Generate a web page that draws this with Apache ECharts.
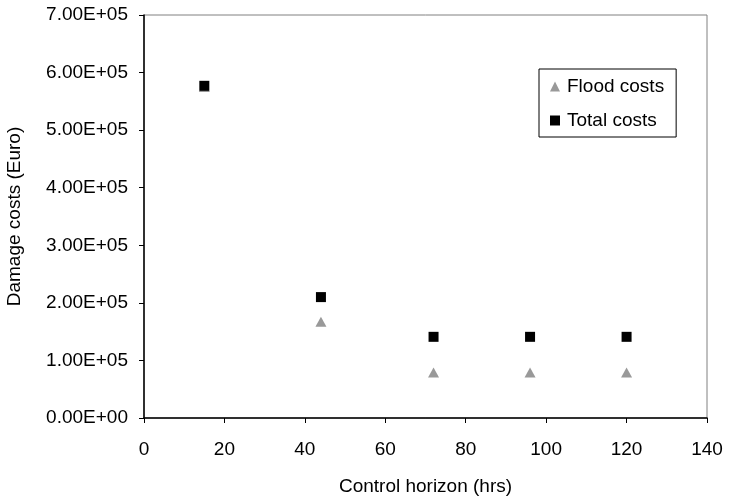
<!DOCTYPE html>
<html>
<head>
<meta charset="utf-8">
<script src="https://cdn.jsdelivr.net/npm/echarts@6/dist/echarts.min.js"></script>
<style>html,body{margin:0;padding:0;background:#fff}#c{width:729px;height:497px}</style>
</head>
<body>
<div id="c"></div>
<script>
const horizon = [15, 44, 72, 96, 120];
const floodCosts = [575000, 167000, 79000, 79000, 79000];
const totalCosts = [577000, 210000, 141000, 141000, 141000];
const xTicks = [0, 20, 40, 60, 80, 100, 120, 140];

function sci(v) {
  if (v === 0) return '0.00E+00';
  const e = Math.floor(Math.log10(Math.abs(v)));
  const m = v / Math.pow(10, e);
  return m.toFixed(2) + 'E' + (e < 0 ? '-' : '+') + String(Math.abs(e)).padStart(2, '0');
}

const chart = echarts.init(document.getElementById('c'));
const font = 'Liberation Sans, Arial, sans-serif';
const fs = 19;
chart.setOption({
  animation: false,
  backgroundColor: '#fff',
  grid: { left: 144, right: 22, top: 15, bottom: 79, show: true, borderColor: '#808080', borderWidth: 1,
          containLabel: false, outerBoundsMode: 'none' },
  xAxis: {
    type: 'value', min: xTicks[0], max: xTicks[xTicks.length - 1], interval: 20,
    name: 'Control horizon (hrs)', nameLocation: 'middle', nameGap: 59,
    nameTextStyle: { fontFamily: font, fontSize: fs, color: '#000' },
    axisLine: { show: true, lineStyle: { color: '#000', width: 1.5 } },
    axisTick: { show: true, length: 5, lineStyle: { color: '#000' } },
    axisLabel: { fontFamily: font, fontSize: fs, color: '#000', margin: 22 },
    splitLine: { show: false }
  },
  yAxis: {
    type: 'value', min: 0, max: 700000, interval: 100000,
    name: 'Damage costs (Euro)', nameLocation: 'middle', nameGap: 120,
    nameTextStyle: { fontFamily: font, fontSize: fs, color: '#000' },
    axisLine: { show: true, lineStyle: { color: '#000', width: 1.5 } },
    axisTick: { show: true, length: 5, lineStyle: { color: '#000' } },
    axisLabel: { fontFamily: font, fontSize: fs, color: '#000', margin: 16, formatter: sci },
    splitLine: { show: false }
  },
  legend: {
    orient: 'vertical', left: 539, top: 69,
    borderColor: '#000', borderWidth: 1, backgroundColor: '#fff',
    padding: [8, 12, 7, 11], itemGap: 15, itemWidth: 10, itemHeight: 10,
    textStyle: { fontFamily: font, fontSize: fs, color: '#000', padding: [0, 0, 0, 2] },
    data: ['Flood costs', 'Total costs']
  },
  series: [
    {
      name: 'Flood costs', type: 'scatter', symbol: 'triangle', symbolSize: [11, 10],
      itemStyle: { color: '#999999', opacity: 1 },
      data: horizon.map((x, i) => [x, floodCosts[i]])
    },
    {
      name: 'Total costs', type: 'scatter', symbol: 'rect', symbolSize: 10,
      itemStyle: { color: '#000000', opacity: 1 },
      data: horizon.map((x, i) => [x, totalCosts[i]])
    }
  ]
});
</script>
</body>
</html>
